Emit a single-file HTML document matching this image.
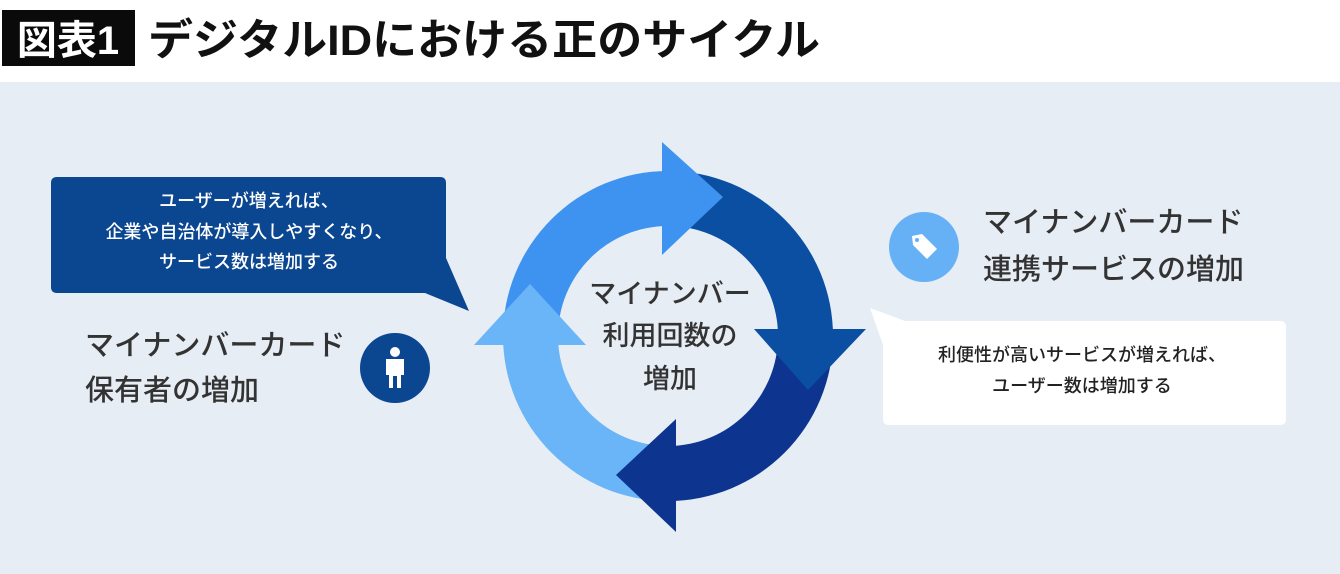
<!DOCTYPE html>
<html><head><meta charset="utf-8"><style>
html,body{margin:0;padding:0;width:1340px;height:574px;overflow:hidden;background:#fff}
body{font-family:"Liberation Sans","Noto Sans CJK JP",sans-serif;}
</style></head><body>
<svg width="1340" height="574" viewBox="0 0 1340 574" xmlns="http://www.w3.org/2000/svg" style="display:block;font-family:'Liberation Sans','Noto Sans CJK JP',sans-serif">
<rect x="0" y="0" width="1340" height="574" fill="#fff"/>
<rect x="0" y="82" width="1340" height="492" fill="#e6edf5"/>
<rect x="2" y="10" width="133" height="56" fill="#0a0a0a"/>
<text x="68" y="54" font-size="40" fill="#fff" text-anchor="middle" font-weight="bold">図表1</text>
<text x="148" y="55" font-size="43" fill="#111" font-weight="bold" textLength="672" lengthAdjust="spacingAndGlyphs">デジタルIDにおける正のサイクル</text>

<path d="M57 177 H440 Q446 177 446 183 V258 L469 311 L425 293 H57 Q51 293 51 287 V183 Q51 177 57 177 Z" fill="#0b4690"/>
<g fill="#fff" font-size="18" font-weight="500" text-anchor="middle">
<text x="249" y="207">ユーザーが増えれば、</text>
<text x="249" y="238">企業や自治体が導入しやすくなり、</text>
<text x="249" y="268">サービス数は増加する</text>
</g>
<g fill="#333" font-size="29" font-weight="500">
<text x="85" y="355">マイナンバーカード</text>
<text x="85" y="400">保有者の増加</text>
</g>
<circle cx="395" cy="368" r="35" fill="#0b4690"/>
<g fill="#fff">
<circle cx="395" cy="352" r="5"/>
<path d="M386 359 H404 V375 H401 V388 H397 V376 H393 V388 H389 V375 H386 Z"/>
</g>

<circle cx="924" cy="247" r="35" fill="#66b1f5"/>
<path d="M912 236 L922 234 L937 249 L927 259 L913 245 Z" fill="#fff"/>
<circle cx="917" cy="240" r="2" fill="#66b1f5"/>
<g fill="#333" font-size="29" font-weight="500">
<text x="983" y="232">マイナンバーカード</text>
<text x="983" y="279">連携サービスの増加</text>
</g>
<path d="M889 321 H1280 Q1286 321 1286 327 V419 Q1286 425 1280 425 H889 Q883 425 883 419 V345 L870 308 L905 321 Z" fill="#fff"/>
<g fill="#222" font-size="18" font-weight="500" text-anchor="middle">
<text x="1082" y="361">利便性が高いサービスが増えれば、</text>
<text x="1082" y="392">ユーザー数は増加する</text>
</g>

<path d="M503 336 A165 165 0 0 1 668 171 L668 226 A110 110 0 0 0 558 336 Z" fill="#3f93f0"/>
<path d="M668 171 A165 165 0 0 1 833 336 L778 336 A110 110 0 0 0 668 226 Z" fill="#0b4fa3"/>
<path d="M833 336 A165 165 0 0 1 668 501 L668 446 A110 110 0 0 0 778 336 Z" fill="#0d3590"/>
<path d="M668 501 A165 165 0 0 1 503 336 L558 336 A110 110 0 0 0 668 446 Z" fill="#6ab4f8"/>
<polygon points="662,142 723,197 662,255" fill="#3f93f0"/>
<polygon points="754,329 866,329 808,390" fill="#0b4fa3"/>
<polygon points="676,419 676,532 616,475" fill="#0d3590"/>
<polygon points="474,345 586,345 530,284" fill="#6ab4f8"/>
<g fill="#333" font-size="27" font-weight="500" text-anchor="middle">
<text x="670" y="303">マイナンバー</text>
<text x="670" y="345">利用回数の</text>
<text x="670" y="388">増加</text>
</g>
</svg>
</body></html>
